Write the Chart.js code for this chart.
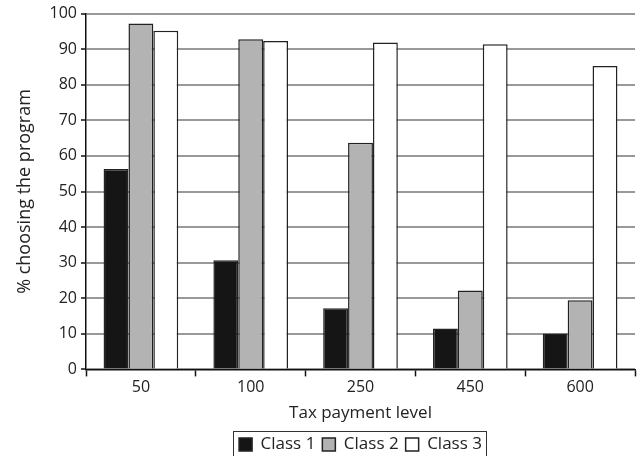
<!DOCTYPE html>
<html>
<head>
<meta charset="utf-8">
<script src="https://cdn.jsdelivr.net/npm/chart.js@4/dist/chart.umd.min.js"></script>
<style>
  html, body { margin: 0; padding: 0; background: #fff; }
  #wrap { width: 640px; height: 456px; }
</style>
</head>
<body>
<div id="wrap"><canvas id="tax-chart"></canvas></div>
<script>
const taxLevels = ["50", "100", "250", "450", "600"];
const class1 = [56.3, 30.7, 17.2, 11.5, 10.1];
const class2 = [97.2, 92.8, 63.7, 22.2, 19.4];
const class3 = [95.2, 92.3, 91.9, 91.4, 85.3];
const yTicks = [0, 10, 20, 30, 40, 50, 60, 70, 80, 90, 100];

const fontFamily = "'Open Sans', sans-serif";

// box around the legend items, like the original figure
const legendBorder = {
  id: 'legendBorder',
  afterDraw(chart) {
    const boxes = chart.legend && chart.legend.legendHitBoxes;
    if (!boxes || !boxes.length) return;
    let l = Infinity, r = -Infinity, t = Infinity, b = -Infinity;
    boxes.forEach(hb => {
      l = Math.min(l, hb.left);
      r = Math.max(r, hb.left + hb.width);
      t = Math.min(t, hb.top);
      b = Math.max(b, hb.top + hb.height);
    });
    const ctx = chart.ctx;
    ctx.save();
    ctx.strokeStyle = '#333';
    ctx.lineWidth = 1;
    ctx.strokeRect(Math.round(l - 6) + 0.5, Math.round(t - 5) + 0.5, Math.round(r - l + 10), Math.round(b - t + 16));
    ctx.restore();
  }
};

const taxCanvas = document.getElementById('tax-chart');

let taxChart = new Chart(taxCanvas, {
  type: 'bar',
  data: {
    labels: taxLevels,
    datasets: [{
      label: 'Class 1',
      data: class1,
      backgroundColor: '#151515',
      borderColor: '#222',
      borderWidth: 1.5
    }, {
      label: 'Class 2',
      data: class2,
      backgroundColor: '#b3b3b3',
      borderColor: '#222',
      borderWidth: 1.5
    }, {
      label: 'Class 3',
      data: class3,
      backgroundColor: '#ffffff',
      borderColor: '#222',
      borderWidth: 1.5
    }]
  },
  options: {
    responsive: true,
    maintainAspectRatio: false,
    animation: { duration: 0 },
    categoryPercentage: 0.68,
    barPercentage: 1.0,
    layout: { padding: { top: 6, right: 5, left: 14, bottom: -7 } },
    scales: {
      x: {
        offset: true,
        grid: {
          offset: true,
          drawOnChartArea: false,
          drawTicks: true,
          tickLength: 7,
          tickColor: '#111',
          tickWidth: 1.5
        },
        border: { color: '#111', width: 1.5 },
        ticks: {
          color: '#222',
          font: { family: fontFamily, size: 16 },
          padding: 1
        },
        title: {
          display: true,
          text: 'Tax payment level',
          color: '#222',
          font: { family: fontFamily, size: 17 },
          padding: { top: 5, bottom: 6 }
        }
      },
      y: {
        min: 0,
        max: 100,
        afterBuildTicks: (axis) => { axis.ticks = yTicks.map(v => ({ value: v })); },
        afterFit: (axis) => { axis.width = 72; },
        grid: {
          color: '#999',
          lineWidth: 2,
          tickColor: '#111',
          tickLength: 5,
          tickWidth: 1.5
        },
        border: { color: '#111', width: 1.5 },
        ticks: {
          color: '#222',
          font: { family: fontFamily, size: 16 },
          padding: 4
        },
        title: {
          display: true,
          text: '% choosing the program',
          color: '#222',
          font: { family: fontFamily, size: 18 },
          padding: { top: 0, bottom: 2 }
        }
      }
    },
    plugins: {
      legend: {
        position: 'bottom',
        fullSize: false,
        labels: {
          color: '#222',
          font: { family: fontFamily, size: 17 },
          usePointStyle: true,
          pointStyle: 'rect',
          boxWidth: 13,
          boxHeight: 13,
          padding: 7
        }
      },
      tooltip: { enabled: false }
    }
  },
  plugins: [legendBorder]
});
</script>
</body>
</html>
